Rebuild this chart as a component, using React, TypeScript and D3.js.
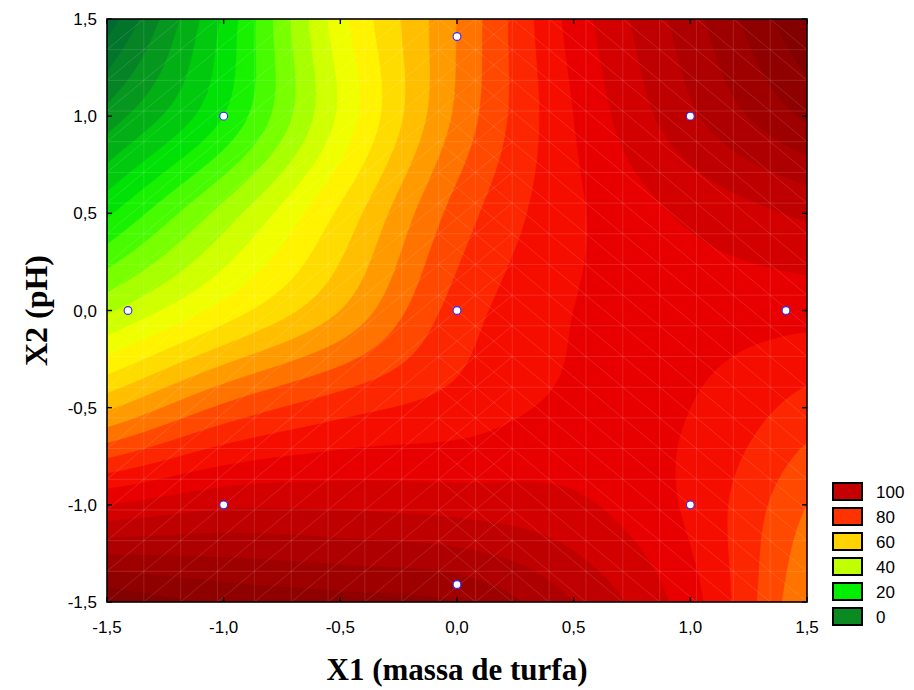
import React, { useRef, useEffect } from "react";
import * as d3 from "d3";

// axis ticks (coded levels)
const x1Ticks = [-1.5, -1, -0.5, 0, 0.5, 1, 1.5];
const x2Ticks = [-1.5, -1, -0.5, 0, 0.5, 1, 1.5];

const gridX1 = [-1.5, -1, -0.5, 0, 0.5, 1, 1.5];
const gridX2 = [1.5, 1, 0.5, 0, -0.5, -1, -1.5];
const row15 = [-13, 16, 48, 70, 92, 108, 125];
const row10 = [2, 20, 46, 71, 90, 104, 116];
const row05 = [19, 37, 56, 77, 89, 96, 101];
const row00 = [39, 52, 65, 82, 90, 92, 92];
const rowM05 = [64, 76, 83, 87, 91, 90, 83];
const rowM10 = [95, 99, 99, 98, 96, 89, 75];
const rowM15 = [124, 119, 117, 115, 105, 92, 70];
const surface = [row15, row10, row05, row00, rowM05, rowM10, rowM15];

// design points (central composite)
const designX1 = [-1, 1, -1, 1, -1.41, 1.41, 0, 0, 0];
const designX2 = [-1, -1, 1, 1, 0, 0, -1.41, 1.41, 0];

// legend
const legendLevels = [100, 80, 60, 40, 20, 0];
const legendColors = ["#c40000", "#ff3300", "#ffd200", "#c0ff00", "#00ee00", "#0b8a22"];

// colour ramp of the contour bands
const rampStops = [-20, -10, 0, 10, 20, 30, 40, 50, 60, 70, 80, 90, 100, 110, 120, 130];
const rampColors = [
  "#00553a", "#006e2e", "#088a22", "#00bd12", "#00ee00", "#60ff00", "#c0ff00", "#ffff00",
  "#ffd000", "#ff8800", "#ff3300", "#f20000", "#c80000", "#a50000", "#880000", "#700000"
];

const font = "'Liberation Sans', Arial, sans-serif";
const serif = "'Liberation Serif', 'Times New Roman', serif";

export default function App() {
  const ref = useRef<SVGSVGElement>(null);

  useEffect(() => {
    const width = 914;
    const height = 690;
    const left = 107, right = 807, top = 19, bottom = 602;

    const svg = d3.select(ref.current);
    svg.selectAll("*").remove();

    const x = d3.scaleLinear().domain([-1.5, 1.5]).range([left, right]);
    const y = d3.scaleLinear().domain([-1.5, 1.5]).range([bottom, top]);
    const color = d3.scaleLinear<string>().domain(rampStops).range(rampColors).clamp(true);

    // smooth resampling of the read grid for the contour generator
    const nR = gridX2.length, nC = gridX1.length;
    const g = (r: number, c: number): number => {
      if (c < 0) return 2 * g(r, 0) - g(r, 1);
      if (c > nC - 1) return 2 * g(r, nC - 1) - g(r, nC - 2);
      if (r < 0) return 2 * g(0, c) - g(1, c);
      if (r > nR - 1) return 2 * g(nR - 1, c) - g(nR - 2, c);
      return surface[r][c];
    };
    const cr = (p0: number, p1: number, p2: number, p3: number, t: number) =>
      0.5 * (2 * p1 + (-p0 + p2) * t + (2 * p0 - 5 * p1 + 4 * p2 - p3) * t * t + (-p0 + 3 * p1 - 3 * p2 + p3) * t * t * t);

    const nx = 141, ny = 118;
    const values = new Array(nx * ny);
    for (let j = 0; j < ny; j++) {
      const v = (j / (ny - 1)) * (nR - 1);
      const r = Math.min(Math.floor(v), nR - 2);
      const tv = v - r;
      for (let i = 0; i < nx; i++) {
        const u = (i / (nx - 1)) * (nC - 1);
        const c = Math.min(Math.floor(u), nC - 2);
        const tu = u - c;
        const rows = [-1, 0, 1, 2].map(dr =>
          cr(g(r + dr, c - 1), g(r + dr, c), g(r + dr, c + 1), g(r + dr, c + 2), tu)
        );
        values[j * nx + i] = cr(rows[0], rows[1], rows[2], rows[3], tv);
      }
    }

    const thresholds = d3.range(-40, 145, 5);
    const contours = d3.contours().size([nx, ny]).thresholds(thresholds)(values);

    const toX1 = (cx: number) => -1.5 + ((cx - 0.5) / (nx - 1)) * 3;
    const toX2 = (cy: number) => 1.5 - ((cy - 0.5) / (ny - 1)) * 3;
    const path = d3.geoPath(
      d3.geoTransform({
        point(px: number, py: number) {
          this.stream.point(x(toX1(px)), y(toX2(py)));
        }
      })
    );

    svg.append("defs").append("clipPath").attr("id", "plot-clip")
      .append("rect").attr("x", left).attr("y", top)
      .attr("width", right - left).attr("height", bottom - top);

    const plot = svg.append("g").attr("clip-path", "url(#plot-clip)");

    plot.append("rect")
      .attr("x", left).attr("y", top)
      .attr("width", right - left).attr("height", bottom - top)
      .attr("fill", color(-20));

    plot.selectAll("path.band")
      .data(contours)
      .join("path")
      .attr("class", "band")
      .attr("d", d => path(d as any))
      .attr("fill", d => color(d.value + 2.5))
      .attr("stroke", d => color(d.value + 2.5))
      .attr("stroke-width", 0.6);

    // faint surface mesh
    const mesh = plot.append("g")
      .attr("stroke", "#ffffff")
      .attr("stroke-opacity", 0.18)
      .attr("stroke-width", 0.7)
      .attr("fill", "none");
    const meshN = 19;
    const mx = d3.range(meshN + 1).map(k => -1.5 + (3 * k) / meshN);
    mx.forEach(v => {
      mesh.append("line").attr("x1", x(v)).attr("x2", x(v)).attr("y1", top).attr("y2", bottom);
      mesh.append("line").attr("y1", y(v)).attr("y2", y(v)).attr("x1", left).attr("x2", right);
    });
    for (let a = 0; a < meshN; a++) {
      for (let b = 0; b < meshN; b++) {
        const xa = mx[a], xb = mx[a + 1], ya = mx[b], yb = mx[b + 1];
        const cxm = (xa + xb) / 2;
        if (cxm < 0.2) {
          mesh.append("line").attr("x1", x(xa)).attr("y1", y(ya)).attr("x2", x(xb)).attr("y2", y(yb));
        }
        if (cxm > -0.1) {
          mesh.append("line").attr("x1", x(xa)).attr("y1", y(yb)).attr("x2", x(xb)).attr("y2", y(ya));
        }
      }
    }

    // design points
    svg.append("g")
      .selectAll("circle")
      .data(designX1.map((d, i) => [d, designX2[i]]))
      .join("circle")
      .attr("cx", d => x(d[0]))
      .attr("cy", d => y(d[1]))
      .attr("r", 3.9)
      .attr("fill", "#ffffff")
      .attr("stroke", "#2a2aff")
      .attr("stroke-width", 1.1);

    // frame
    svg.append("rect")
      .attr("x", left).attr("y", top)
      .attr("width", right - left).attr("height", bottom - top)
      .attr("fill", "none")
      .attr("stroke", "#000")
      .attr("stroke-width", 1.6);

    // inward ticks on all sides
    const ticks = svg.append("g").attr("stroke", "#000").attr("stroke-width", 1.4);
    x1Ticks.forEach(t => {
      ticks.append("line").attr("x1", x(t)).attr("x2", x(t)).attr("y1", bottom).attr("y2", bottom - 5);
      ticks.append("line").attr("x1", x(t)).attr("x2", x(t)).attr("y1", top).attr("y2", top + 5);
    });
    x2Ticks.forEach(t => {
      ticks.append("line").attr("y1", y(t)).attr("y2", y(t)).attr("x1", left).attr("x2", left + 5);
      ticks.append("line").attr("y1", y(t)).attr("y2", y(t)).attr("x1", right).attr("x2", right - 5);
    });

    const fmt = (v: number) => d3.format(".1f")(v).replace(".", ",").replace("\u2212", "-");

    svg.append("g")
      .selectAll("text")
      .data(x1Ticks)
      .join("text")
      .attr("x", d => x(d))
      .attr("y", 633)
      .attr("text-anchor", "middle")
      .attr("font-family", font)
      .attr("font-size", 17)
      .attr("fill", "#000")
      .text(d => fmt(d));

    svg.append("g")
      .selectAll("text")
      .data(x2Ticks)
      .join("text")
      .attr("x", 97)
      .attr("y", d => y(d) + 6)
      .attr("text-anchor", "end")
      .attr("font-family", font)
      .attr("font-size", 17)
      .attr("fill", "#000")
      .text(d => fmt(d));

    // axis titles
    svg.append("text")
      .attr("x", 457)
      .attr("y", 680)
      .attr("text-anchor", "middle")
      .attr("font-family", serif)
      .attr("font-weight", "bold")
      .attr("font-size", 31)
      .attr("textLength", 261)
      .attr("lengthAdjust", "spacingAndGlyphs")
      .text("X1 (massa de turfa)");

    svg.append("text")
      .attr("transform", `translate(47,${y(0)}) rotate(-90)`)
      .attr("text-anchor", "middle")
      .attr("font-family", serif)
      .attr("font-weight", "bold")
      .attr("font-size", 31)
      .attr("textLength", 111)
      .attr("lengthAdjust", "spacingAndGlyphs")
      .text("X2 (pH)");

    // legend
    const lg = svg.append("g");
    legendLevels.forEach((lv, i) => {
      const yy = 483 + i * 25;
      lg.append("rect")
        .attr("x", 833).attr("y", yy)
        .attr("width", 29).attr("height", 17)
        .attr("fill", legendColors[i])
        .attr("stroke", "#000")
        .attr("stroke-width", 2);
      lg.append("text")
        .attr("x", 876).attr("y", yy + 15)
        .attr("font-family", font)
        .attr("font-size", 17)
        .attr("fill", "#000")
        .text(lv);
    });

    svg.attr("width", width).attr("height", height);
  }, []);

  return (
    <div style={{ position: "absolute", left: 0, top: 0, background: "#fff" }}>
      <svg ref={ref} width={914} height={690} style={{ display: "block", background: "#fff" }}></svg>
    </div>
  );
}
